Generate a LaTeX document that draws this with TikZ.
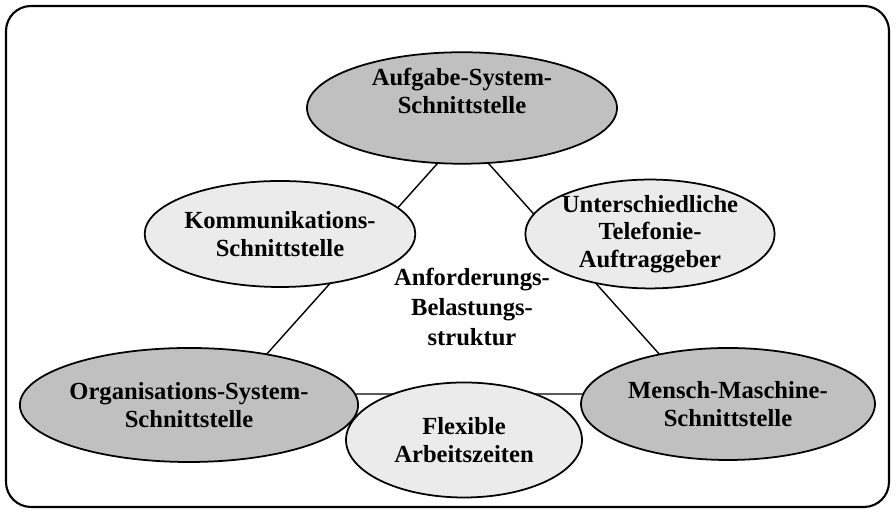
\documentclass[tikz,border=0pt]{standalone}
\usepackage{fontspec}
\setmainfont{Liberation Serif}
\usetikzlibrary{shapes.geometric}

\definecolor{darkfill}{RGB}{192,192,192}
\definecolor{lightfill}{RGB}{235,235,235}

\tikzset{
  blob/.style={ellipse, draw=black, line width=1pt, inner sep=0pt, align=center,
    font=\fontsize{14}{15.5}\selectfont\bfseries},
  darkblob/.style={blob, fill=darkfill},
  lightblob/.style={blob, fill=lightfill},
  link/.style={line width=0.8pt}
}

\begin{document}
\begin{tikzpicture}

% Frame
\useasboundingbox (0,0) rectangle (17.92,10.26);
\draw[line width=1.2pt, rounded corners=0.5cm] (0.12,0.12) rectangle (17.78,10.14);

% Corners of the triangle
\coordinate (apex) at (9.26,7.56);
\coordinate (cornerL) at (4.62,2.38);
\coordinate (cornerR) at (13.9,2.38);

% Connectors
\draw[link] (apex) -- (cornerL) -- (cornerR) -- cycle;

% Ellipses
\node[darkblob, minimum width=6.2cm, minimum height=1.84cm] (task) at (9.24,8.10)
  {Aufgabe-System-\\Schnittstelle\\[4pt]};
\node[lightblob, minimum width=4.28cm, minimum height=2.12cm] (comm) at (5.6,5.58)
  {Kommunikations-\\Schnittstelle};
\node[lightblob, minimum width=4.32cm, minimum height=2.16cm] (client) at (13.0,5.58)
  {Unterschiedliche\\Telefonie-\\Auftraggeber};
\node[darkblob, minimum width=6.16cm, minimum height=2.28cm] (orga) at (3.78,2.16)
  {Organisations-System-\\Schnittstelle};
\node[darkblob, minimum width=5.88cm, minimum height=2.24cm] (hmi) at (14.56,2.18)
  {Mensch-Maschine-\\Schnittstelle};
\node[lightblob, minimum width=4.72cm, minimum height=2.3cm] (flex) at (9.28,1.46)
  {Flexible\\Arbeitszeiten};

% Centre label
\node[align=center, font=\fontsize{14}{17}\selectfont\bfseries] (load) at (9.44,4.12)
  {Anforderungs-\\Belastungs-\\struktur};

\end{tikzpicture}
\end{document}
